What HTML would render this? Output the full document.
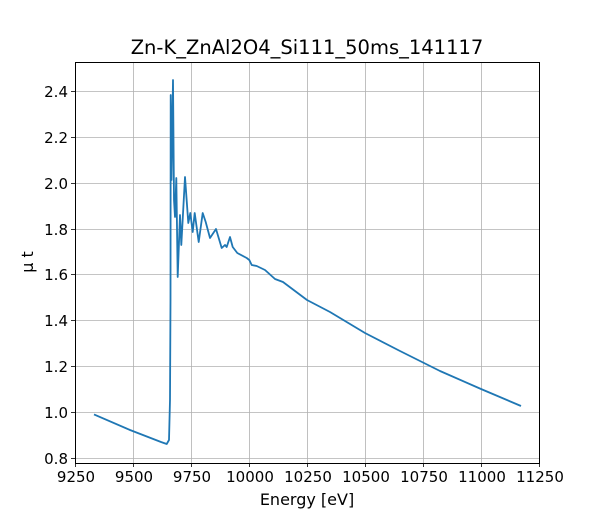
<!DOCTYPE html>
<html><head><style>body{margin:0;background:#fff}svg text{font-family:"DejaVu Sans","Liberation Sans",sans-serif}</style></head>
<body><svg width="600" height="520" viewBox="0 0 600 520" xmlns="http://www.w3.org/2000/svg">
<rect width="600" height="520" fill="#fff"/>
<g stroke="#b0b0b0" stroke-width="0.8">
<line x1="75.5" y1="62" x2="75.5" y2="463"/><line x1="133.5" y1="62" x2="133.5" y2="463"/><line x1="191.5" y1="62" x2="191.5" y2="463"/><line x1="249.5" y1="62" x2="249.5" y2="463"/><line x1="307.5" y1="62" x2="307.5" y2="463"/><line x1="365.5" y1="62" x2="365.5" y2="463"/><line x1="423.5" y1="62" x2="423.5" y2="463"/><line x1="481.5" y1="62" x2="481.5" y2="463"/><line x1="539.5" y1="62" x2="539.5" y2="463"/>
<line x1="75" y1="458.5" x2="540" y2="458.5"/><line x1="75" y1="412.5" x2="540" y2="412.5"/><line x1="75" y1="366.5" x2="540" y2="366.5"/><line x1="75" y1="320.5" x2="540" y2="320.5"/><line x1="75" y1="274.5" x2="540" y2="274.5"/><line x1="75" y1="229.5" x2="540" y2="229.5"/><line x1="75" y1="183.5" x2="540" y2="183.5"/><line x1="75" y1="137.5" x2="540" y2="137.5"/><line x1="75" y1="91.5" x2="540" y2="91.5"/>
</g>
<polyline fill="none" stroke="#1f77b4" stroke-width="1.8" stroke-linejoin="round" points="94,414.4 130,430 161,442 166.7,444 169,440 170,400 170.5,300 170.7,95 171.5,180 173,80 174,200 175,217 176.3,178 177.7,277 180,215 181.3,245 185,177 188.3,223 190.3,213 192.7,232 194.7,213 198.7,242 202.7,213 205.7,222 210,238 216,229 221.7,248 225,245 226.7,247 230,237 232.7,247 237.3,253 246.7,258 249.3,260 251.7,265 256.7,266 265,270 275,279 283,282 307,300 330,312 365,333 400,351 440,371 481,389 521,406"/>
<rect x="75.5" y="62.5" width="464" height="401" fill="none" stroke="#000" stroke-width="1"/>
<g stroke="#000" stroke-width="0.8">
<line x1="75.5" y1="463" x2="75.5" y2="467"/><line x1="133.5" y1="463" x2="133.5" y2="467"/><line x1="191.5" y1="463" x2="191.5" y2="467"/><line x1="249.5" y1="463" x2="249.5" y2="467"/><line x1="307.5" y1="463" x2="307.5" y2="467"/><line x1="365.5" y1="463" x2="365.5" y2="467"/><line x1="423.5" y1="463" x2="423.5" y2="467"/><line x1="481.5" y1="463" x2="481.5" y2="467"/><line x1="539.5" y1="463" x2="539.5" y2="467"/>
<line x1="71" y1="458.5" x2="75" y2="458.5"/><line x1="71" y1="412.5" x2="75" y2="412.5"/><line x1="71" y1="366.5" x2="75" y2="366.5"/><line x1="71" y1="320.5" x2="75" y2="320.5"/><line x1="71" y1="274.5" x2="75" y2="274.5"/><line x1="71" y1="229.5" x2="75" y2="229.5"/><line x1="71" y1="183.5" x2="75" y2="183.5"/><line x1="71" y1="137.5" x2="75" y2="137.5"/><line x1="71" y1="91.5" x2="75" y2="91.5"/>
</g>
<g font-size="15" text-anchor="middle">
<text x="76" y="482">9250</text><text x="134" y="482">9500</text><text x="192" y="482">9750</text><text x="250" y="482">10000</text><text x="308" y="482">10250</text><text x="366" y="482">10500</text><text x="424" y="482">10750</text><text x="482" y="482">11000</text><text x="540" y="482">11250</text>
</g>
<g font-size="15" text-anchor="end">
<text x="68" y="464">0.8</text><text x="68" y="418">1.0</text><text x="68" y="372">1.2</text><text x="68" y="326">1.4</text><text x="68" y="280">1.6</text><text x="68" y="235">1.8</text><text x="68" y="189">2.0</text><text x="68" y="143">2.2</text><text x="68" y="97">2.4</text>
</g>
<text x="307" y="505" font-size="16" text-anchor="middle">Energy [eV]</text>
<text transform="translate(33,262) rotate(-90)" font-size="16" text-anchor="middle">μ t</text>
<text x="307" y="54" font-size="19.5" text-anchor="middle">Zn-K_ZnAl2O4_Si111_50ms_141117</text>
</svg></body></html>
